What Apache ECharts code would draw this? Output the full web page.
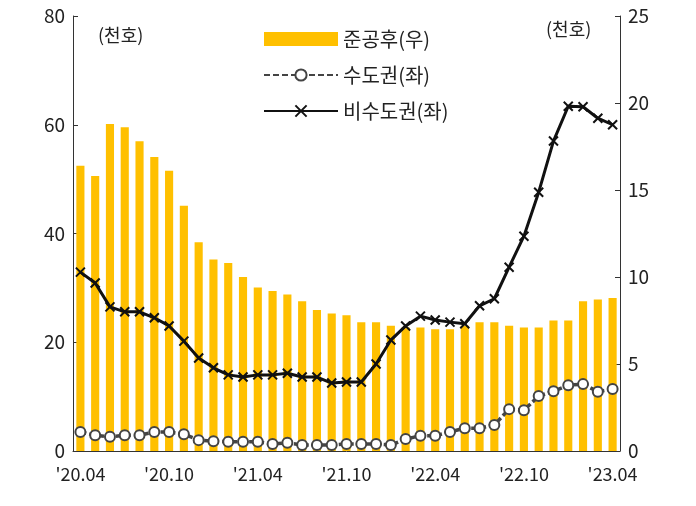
<!DOCTYPE html><html><head><meta charset="utf-8">
<script src="https://cdn.jsdelivr.net/npm/echarts@6/dist/echarts.min.js"></script>
<style>html,body{margin:0;padding:0;background:#fff}#c{width:696px;height:506px}</style></head><body><div id="c"></div><script>
const categories=["'20.04","'20.05","'20.06","'20.07","'20.08","'20.09","'20.10","'20.11","'20.12","'21.01","'21.02","'21.03","'21.04","'21.05","'21.06","'21.07","'21.08","'21.09","'21.10","'21.11","'21.12","'22.01","'22.02","'22.03","'22.04","'22.05","'22.06","'22.07","'22.08","'22.09","'22.10","'22.11","'22.12","'23.01","'23.02","'23.03","'23.04"];
const completed=[16.4,15.8,18.8,18.6,17.8,16.9,16.1,14.1,12.0,11.0,10.8,10.0,9.4,9.2,9.0,8.6,8.1,7.9,7.8,7.4,7.4,7.2,7.1,7.1,7.0,7.0,7.2,7.4,7.4,7.2,7.1,7.1,7.5,7.5,8.6,8.7,8.8];
const capital=[3.5,2.9,2.6,2.9,2.9,3.5,3.5,3.1,2.0,1.8,1.7,1.7,1.7,1.3,1.5,1.1,1.1,1.1,1.3,1.3,1.3,1.1,2.2,2.8,2.8,3.5,4.2,4.2,4.8,7.7,7.5,10.1,11.0,12.1,12.3,10.9,11.4];
const nonCapital=[32.9,30.9,26.5,25.6,25.6,24.5,23.0,20.2,17.1,15.3,14.0,13.6,14.0,14.0,14.3,13.6,13.6,12.5,12.7,12.7,16.0,20.4,23.0,24.8,24.1,23.7,23.4,26.7,28.0,33.8,39.5,47.6,57.0,63.4,63.3,61.2,60.0];
const c=echarts.init(document.getElementById('c'));
const font="'Noto Sans CJK KR','Noto Sans',sans-serif";
c.setOption({animation:false,textStyle:{fontFamily:font},
grid:{left:73,right:76,top:16,bottom:55},
legend:{orient:'vertical',left:258,top:24,itemGap:16,itemWidth:74,itemHeight:14,textStyle:{fontSize:20,color:'#222',fontFamily:font},
 data:[{name:'준공후(우)',icon:'rect'},{name:'수도권(좌)'},{name:'비수도권(좌)'}]},
xAxis:{type:'category',data:categories,axisLine:{lineStyle:{color:'#333'}},axisTick:{show:false},
 axisLabel:{interval:5,fontSize:18,color:'#222',margin:14}},
yAxis:[{type:'value',min:0,max:80,interval:20,splitLine:{show:false},axisLine:{show:true,lineStyle:{color:'#333'}},axisTick:{show:true,inside:true},axisLabel:{fontSize:19,color:'#222'}},
 {type:'value',min:0,max:25,interval:5,splitLine:{show:false},axisLine:{show:true,lineStyle:{color:'#333'}},axisTick:{show:true,inside:true},axisLabel:{fontSize:19,color:'#222'}}],
graphic:[{type:'text',left:98,top:26,style:{text:'(천호)',fontSize:18,fill:'#222',fontFamily:font}},
 {type:'text',left:546,top:20,style:{text:'(천호)',fontSize:18,fill:'#222',fontFamily:font}}],
series:[{name:'준공후(우)',type:'bar',yAxisIndex:1,data:completed,barWidth:'55%',itemStyle:{color:'#FFC000'}},
 {name:'수도권(좌)',type:'line',data:capital,showAllSymbol:true,symbol:'circle',symbolSize:10,itemStyle:{color:'#fff',borderColor:'#444',borderWidth:2},lineStyle:{color:'#444',width:3.5,type:[6,3]}},
 {name:'비수도권(좌)',type:'line',data:nonCapital,showAllSymbol:true,symbol:'path://M0,0L10,10M10,0L0,10',symbolSize:9,itemStyle:{color:'#111',borderColor:'#111',borderWidth:2},lineStyle:{color:'#111',width:3}}]});
</script></body></html>
